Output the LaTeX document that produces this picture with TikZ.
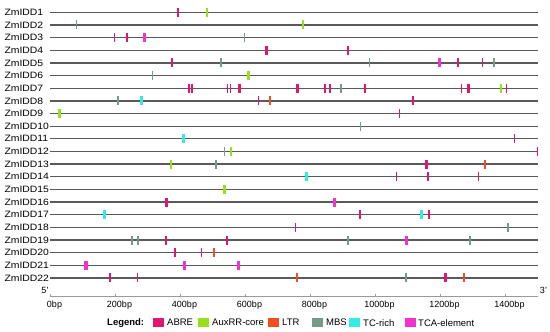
\documentclass[tikz,border=0pt]{standalone}
\usepackage{fontspec}
\setmainfont{Liberation Sans}
\definecolor{colA}{HTML}{E0176F}
\definecolor{colX}{HTML}{95E01A}
\definecolor{colL}{HTML}{F04E23}
\definecolor{colM}{HTML}{779A88}
\definecolor{colC}{HTML}{33EBE6}
\definecolor{colT}{HTML}{F530D0}
\definecolor{lineC}{HTML}{5A5A5A}
\definecolor{axisC}{HTML}{9A9A9A}
\tikzset{
  rowlabel/.style={anchor=west, inner sep=0pt, font=\fontsize{9.2}{9.2}\selectfont, xscale=1.13},
  genel/.style={draw=lineC, line width=1.3pt},
  ticklabel/.style={font=\fontsize{9}{9}\selectfont, inner sep=0pt},
  legtext/.style={font=\fontsize{9.5}{9.5}\selectfont, anchor=west, inner sep=0pt},
}
\begin{document}
\begin{tikzpicture}[x=1pt,y=-1pt]
\useasboundingbox[fill=white] (0,0) rectangle (550,332);
\foreach \r/\lst in {
 1/{A/393/1.6, X/482/2.2},
 2/{M/82/1.6, X/778/2.2},
 3/{A/199/1.6, A/237/1.6, T/292/3.2, M/598/1.6},
 4/{A/667/3.0, A/917/1.6},
 5/{A/376/1.6, M/527/1.6, M/983/1.6, T/1198/3.2, A/1255/1.6, A/1331/1.6, M/1367/1.6},
 6/{M/315/1.6, X/611/2.2},
 7/{A/427/1.6, A/437/1.6, A/546/1.6, A/556/1.6, A/582/3.0, A/761/3.0, A/846/1.6, A/862/1.6, M/895/1.6, A/970/1.6, A/1266/1.6, A/1289/3.0, X/1388/2.2, A/1405/1.6},
 8/{M/210/1.6, C/281/3.2, A/641/1.6, L/678/2.0, A/1117/1.6},
 9/{X/29/2.2, A/1075/1.6},
 10/{M/956/1.6},
 11/{C/410/3.2, A/1429/1.6},
 12/{M/537/1.6, X/556/2.2, A/1500/1.6},
 13/{X/372/2.2, M/510/1.6, A/1157/3.0, L/1339/2.0},
 14/{C/789/3.2, A/1066/1.6, A/1164/1.6, A/1319/1.6},
 15/{X/537/2.2},
 16/{A/358/3.0, T/876/3.2},
 17/{C/167/3.2, A/953/1.6, C/1144/3.2, A/1167/1.6},
 18/{A/755/1.6, M/1409/1.6},
 19/{M/253/1.6, M/270/1.6, A/357/1.6, A/544/1.6, M/917/1.6, T/1098/3.2, M/1292/1.6},
 20/{A/385/1.6, A/466/1.6, L/504/2.0},
 21/{T/111/3.2, T/415/3.2, T/580/3.2},
 22/{A/185/1.6, A/269/1.6, L/760/2.0, M/1095/1.6, A/1217/3.0, L/1273/2.0}}{
  \pgfmathsetmacro{\yy}{12.3+(\r-1)*12.65}
  \node[rowlabel] (lab\r) at (4.3,\yy) {ZmIDD\r};
  \draw[genel] (50,\yy) coordinate (s\r) -- (538,\yy) coordinate (e\r);
  \foreach \t/\p/\w in \lst {
    \pgfmathsetmacro{\xx}{50+0.325*\p}
    \fill[fill=col\t] (\xx-\w/2,\yy-4.5) rectangle (\xx+\w/2,\yy+4.5);
  }
}
% axis
\draw[axisC, line width=1pt] (50,296) coordinate (a0) -- (538,296) coordinate (a1);
\foreach \v in {0,200,...,1400} {
  \pgfmathsetmacro{\xx}{50+0.325*\v}
  \draw[axisC, line width=0.8pt] (\xx,296) -- (\xx,293.5);
  \node[ticklabel] (t\v) at (\xx+4.5,305.5) {\v bp};
}
\node[ticklabel] (five) at (45,290.5) {5'};
\node[ticklabel] (three) at (543.5,290) {3'};
% legend
\node[legtext, font=\bfseries\fontsize{9.5}{9.5}\selectfont] (leg) at (107,322.7) {Legend:};
\foreach \c/\sx/\tx/\txt in {A/153/167/ABRE, X/198/212/AuxRR-core, L/267.5/282/LTR, M/312/326/MBS, C/349/363/TC-rich, T/404.5/418/TCA-element} {
  \fill[fill=col\c] (\sx,318.2) rectangle (\sx+11,327.2);
  \node[legtext] (l\c) at (\tx,322.7) {\txt};
}
\end{tikzpicture}
\end{document}
